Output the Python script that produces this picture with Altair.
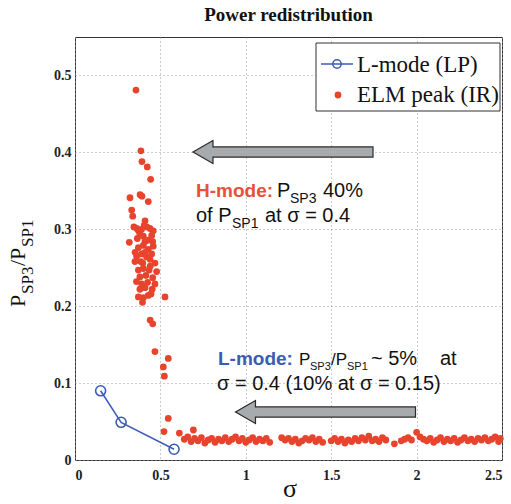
import altair as alt
import pandas as pd

# ---------------- data ----------------
lmode_sigma = [0.15, 0.27, 0.58]
lmode_ratio = [0.090, 0.049, 0.014]

elm_sigma = [
    0.357, 0.386, 0.392, 0.423, 0.443, 0.322, 0.381, 0.392, 0.429, 0.332,
    0.338, 0.410, 0.405, 0.345, 0.361, 0.372, 0.390, 0.420, 0.439, 0.458,
    0.380, 0.400, 0.449, 0.318, 0.365, 0.410, 0.430, 0.455, 0.371, 0.400,
    0.429, 0.458, 0.352, 0.410, 0.361, 0.390, 0.419, 0.449, 0.351, 0.385,
    0.397, 0.439, 0.468, 0.440, 0.371, 0.400, 0.434, 0.478, 0.380, 0.415,
    0.455, 0.360, 0.390, 0.425, 0.468, 0.380, 0.410, 0.452, 0.445, 0.371,
    0.400, 0.429, 0.527, 0.395, 0.440, 0.455, 0.468, 0.546, 0.517, 0.523,
    0.546, 0.521, 0.611, 0.693,
    0.64, 0.66, 0.68, 0.70, 0.72, 0.74, 0.76, 0.78, 0.80, 0.82,
    0.84, 0.86, 0.88, 0.90, 0.92, 0.94, 0.96, 0.98, 1.00, 1.02,
    1.04, 1.06, 1.08, 1.10, 1.12, 1.14, 1.21, 1.23, 1.25, 1.27,
    1.29, 1.31, 1.33, 1.35, 1.37, 1.39, 1.41, 1.43, 1.45, 1.50,
    1.52, 1.54, 1.56, 1.58, 1.60, 1.62, 1.64, 1.66, 1.68, 1.70,
    1.72, 1.74, 1.76, 1.78, 1.80, 1.82, 1.87, 1.91, 1.93, 1.95,
    1.97, 2.00, 2.02, 2.04, 2.06, 2.08, 2.10, 2.12, 2.14, 2.16,
    2.18, 2.20, 2.22, 2.24, 2.26, 2.28, 2.30, 2.32, 2.34, 2.36,
    2.38, 2.40, 2.42, 2.44, 2.46, 2.48, 2.49,
]
elm_ratio = [
    0.481, 0.402, 0.388, 0.381, 0.365, 0.341, 0.345, 0.343, 0.336, 0.325,
    0.317, 0.311, 0.305, 0.303, 0.301, 0.298, 0.300, 0.303, 0.301, 0.298,
    0.294, 0.291, 0.292, 0.283, 0.288, 0.284, 0.286, 0.284, 0.276, 0.279,
    0.274, 0.278, 0.270, 0.270, 0.265, 0.268, 0.264, 0.268, 0.258, 0.258,
    0.256, 0.261, 0.256, 0.252, 0.247, 0.249, 0.247, 0.245, 0.238, 0.240,
    0.237, 0.232, 0.229, 0.231, 0.229, 0.222, 0.224, 0.222, 0.216, 0.212,
    0.211, 0.214, 0.212, 0.205, 0.182, 0.177, 0.141, 0.132, 0.121, 0.109,
    0.054, 0.037, 0.035, 0.039,
    0.027, 0.030, 0.024, 0.028, 0.025, 0.029, 0.022, 0.026, 0.028, 0.023,
    0.027, 0.025, 0.029, 0.024, 0.027, 0.030, 0.025, 0.028, 0.023, 0.026,
    0.029, 0.024, 0.027, 0.025, 0.028, 0.023, 0.029, 0.026, 0.028, 0.024,
    0.027, 0.022, 0.025, 0.028, 0.026, 0.029, 0.024, 0.027, 0.023, 0.025,
    0.028, 0.024, 0.027, 0.022, 0.026, 0.024, 0.028, 0.025, 0.029, 0.026,
    0.031, 0.025, 0.027, 0.024, 0.029, 0.026, 0.021, 0.025, 0.027, 0.029,
    0.026, 0.036, 0.030, 0.027, 0.025, 0.028, 0.023, 0.026, 0.029, 0.024,
    0.027, 0.025, 0.028, 0.023, 0.026, 0.029, 0.025, 0.027, 0.024, 0.028,
    0.026, 0.029, 0.025, 0.027, 0.030, 0.024, 0.028,
]

x_ticks = [0, 0.5, 1, 1.5, 2, 2.5]
y_ticks = [0, 0.1, 0.2, 0.3, 0.4, 0.5]

# ---------------- styles ----------------
RED = "#e8442d"
BLUE = "#3a5cb4"
RED_TXT = "#e9503a"
BLUE_TXT = "#3a5cb4"
SERIF = "Liberation Serif"
SANS = "Liberation Sans"
W, H = 427, 423

elm_df = pd.DataFrame({"sigma": elm_sigma, "ratio": elm_ratio})
lm_df = pd.DataFrame({"sigma": lmode_sigma, "ratio": lmode_ratio})
one = pd.DataFrame({"k": [0]})

xs = alt.Scale(domain=[0, 2.5], nice=False, zero=False)
ys = alt.Scale(domain=[0, 0.55], nice=False, zero=False)

AX = dict(format="~g", title=None, labelFont=SERIF, labelFontWeight="bold",
          labelFontSize=14, labelColor="#222222")
xenc = alt.X("sigma:Q", scale=xs, axis=alt.Axis(values=x_ticks, labelPadding=8, **AX))
yenc = alt.Y("ratio:Q", scale=ys, axis=alt.Axis(values=y_ticks, labelPadding=4, **AX))

elm = alt.Chart(elm_df).mark_circle(size=46, color=RED, opacity=1).encode(x=xenc, y=yenc)
lline = alt.Chart(lm_df).mark_line(color=BLUE, strokeWidth=1.5).encode(x=xenc, y=yenc)
lpts = alt.Chart(lm_df).mark_point(shape="circle", filled=False, size=100, color=BLUE,
                                   strokeWidth=1.6, opacity=1).encode(x=xenc, y=yenc)

ARROW = "M -1 0 L -0.778 -0.128 L -0.778 -0.056 L 1 -0.056 L 1 0.056 L -0.778 0.056 L -0.778 0.128 Z"


def arrow(cx, cy):
    return alt.Chart(one).mark_point(shape=ARROW, filled=True, fill="#a8abad", stroke="#2a2a2a",
                                     strokeWidth=1.2, size=32400, opacity=1).encode(
        x=alt.value(cx), y=alt.value(cy))


def txt(s, x, y, size, color="#111111", weight="normal", font=SANS, angle=None, align="left"):
    kw = dict(text=s, align=align, baseline="alphabetic", fontSize=size, color=color,
              fontWeight=weight, font=font)
    if angle is not None:
        kw["angle"] = angle
    return alt.Chart(one).mark_text(**kw).encode(x=alt.value(x), y=alt.value(y))


layers = [
    elm, lline, lpts,
    arrow(208, 115), arrow(250.5, 375),
    # H-mode annotation
    txt("H-mode:", 121, 160, 19, RED_TXT, "bold"),
    txt("P", 202, 160, 20),
    txt("SP3", 215, 166, 14),
    txt("40%", 248, 160, 20),
    txt("of P", 121, 185, 20),
    txt("SP1", 157, 191, 14),
    txt("at σ = 0.4", 190, 185, 20),
    # L-mode annotation
    txt("L-mode:", 143, 328, 19, BLUE_TXT, "bold"),
    txt("P", 224, 328, 17),
    txt("SP3", 235, 333, 11),
    txt("/P", 256, 328, 17),
    txt("SP1", 272, 333, 11),
    txt("~ 5%", 296, 328, 20),
    txt("at", 365, 328, 20),
    txt("σ = 0.4 (10% at σ = 0.15)", 142, 353, 20),
    # title and axis titles
    txt("Power redistribution", 213.5, -16, 19, "#111111", "bold", SERIF, align="center"),
    txt("σ", 215, 460, 26, "#111111", "normal", SERIF, align="center"),
    txt("P", -50, 270, 22, "#111111", "normal", SERIF, angle=270),
    txt("SP3", -42, 257, 17, "#111111", "normal", SERIF, angle=270),
    txt("/P", -50, 229, 22, "#111111", "normal", SERIF, angle=270),
    txt("SP1", -42, 210, 17, "#111111", "normal", SERIF, angle=270),
    # legend
    alt.Chart(one).mark_rect(fill="white", stroke="#333333", strokeWidth=1).encode(
        x=alt.value(241), x2=alt.value(425), y=alt.value(6), y2=alt.value(74)),
    alt.Chart(one).mark_rule(color=BLUE, strokeWidth=1.5).encode(
        x=alt.value(246), x2=alt.value(278), y=alt.value(27)),
    alt.Chart(one).mark_point(shape="circle", filled=False, size=70, color=BLUE, strokeWidth=1.5,
                              opacity=1).encode(x=alt.value(262), y=alt.value(27)),
    alt.Chart(one).mark_circle(size=46, color=RED, opacity=1).encode(
        x=alt.value(263), y=alt.value(58)),
    txt("L-mode (LP)", 282, 35, 23, "#111111", "normal", SERIF),
    txt("ELM peak (IR)", 282, 65, 23, "#111111", "normal", SERIF),
]

chart = alt.layer(*layers).properties(
    width=W, height=H,
    autosize=alt.AutoSizeParams(type="none"),
    padding={"left": 75, "top": 37, "right": 9, "bottom": 44},
    background="white",
).configure_view(
    stroke="#333333", strokeWidth=1
).configure_axis(
    labelFont=SERIF, labelFontWeight="bold", labelFontSize=14, labelColor="#222222",
    grid=True, gridColor="#9a9a9a", gridDash=[1, 3], gridWidth=1,
    domain=False, ticks=False,
)

chart.save("out.html", embed_options={"renderer": "svg", "actions": False})
